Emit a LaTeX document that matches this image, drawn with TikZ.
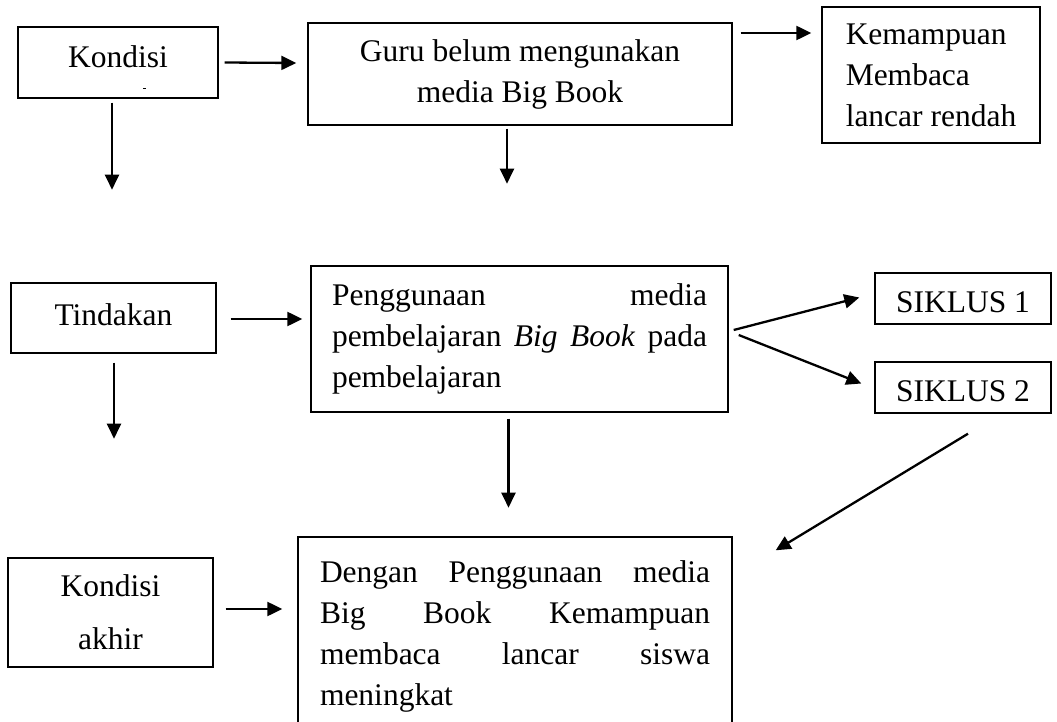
\documentclass[tikz,border=0pt]{standalone}
\usepackage{fontspec}
\setmainfont{Liberation Serif}
\usetikzlibrary{arrows.meta}
\begin{document}
\begin{tikzpicture}[x=1pt,y=-1pt,
  box/.style={draw, line width=1.4pt, inner sep=0pt, font=\fontsize{31.5}{41}\selectfont},
  arr/.style={line width=2.3pt, -{Triangle[length=15pt,width=14pt]}}]
\useasboundingbox (0,0) rectangle (1057,722);
\clip (0,0) rectangle (1057,722);
\fill[white] (0,0) rectangle (1057,722);

% boxes
\node[box, minimum width=200pt, minimum height=71pt, text height=21pt, text depth=10pt] (k) at (118,62.5) {Kondisi};
\node[box, minimum width=424pt, minimum height=102pt, align=center] (guru) at (520,74) {Guru belum mengunakan\\media Big Book};
\node[box, minimum width=218pt, minimum height=136pt, align=left, xshift=0pt] (kem) at (931,75) {Kemampuan\\Membaca\\lancar rendah};
\node[box, minimum width=205pt, minimum height=70pt, text height=21pt, text depth=7pt] (t) at (113.5,318) {Tindakan};
\node[box, minimum width=417pt, minimum height=146pt, text width=375pt, align=left] (peng) at (519.5,339) {Penggunaan \hfill media\\pembelajaran \hfill\textit{Big} \hfill\textit{Book} \hfill pada\\pembelajaran};
\node[box, minimum width=176pt, minimum height=51pt, text height=28pt, text depth=0pt] (s1) at (963,298.5) {SIKLUS 1};
\node[box, minimum width=176pt, minimum height=51pt, text height=27pt, text depth=0pt] (s2) at (963,387.5) {SIKLUS 2};
\node[box, minimum width=205pt, minimum height=109pt, align=center] (ka) at (110.5,612.5) {Kondisi\\[12pt]akhir};
\node[box, minimum width=434pt, minimum height=198pt, text width=390pt, align=left] (fin) at (515,636) {Dengan \hfill Penggunaan \hfill media\\Big \hfill Book \hfill Kemampuan\\membaca \hfill lancar \hfill siswa\\meningkat};

% stray mark inside Kondisi box
\draw[line width=0.6pt] ([shift={(25,25.5)}]k.center) -- ++(3,0);

% connectors
\draw[arr] ([xshift=6pt]k.east) -- ([shift={(-11,-11)}]guru.west);
\draw[arr] ([shift={(-6,4)}]k.south) -- ++(0,87);
\draw[arr] ([shift={(8,-41)}]guru.east) -- ([shift={(-10,-42)}]kem.west);
\draw[arr] ([shift={(-13,3)}]guru.south) -- ++(0,55);
\draw[arr] ([shift={(14,1)}]t.east) -- ([shift={(-8,-20)}]peng.west);
\draw[arr] ([shift={(0.5,9)}]t.south) -- ++(0,76);
\draw[arr] ([shift={(5,-9)}]peng.east) -- ([shift={(-15,-1)}]s1.west);
\draw[arr] ([shift={(10,-4)}]peng.east) -- ([shift={(-13,-4)}]s2.west);
\draw[arr] ([shift={(-11,6)}]peng.south) -- ++(0,89);
\draw[arr] ([shift={(5,20)}]s2.south) -- ([shift={(43,14)}]fin.north east);
\draw[arr] ([shift={(12,-3.5)}]ka.east) -- ([shift={(-15,-27)}]fin.west);
\end{tikzpicture}
\end{document}
